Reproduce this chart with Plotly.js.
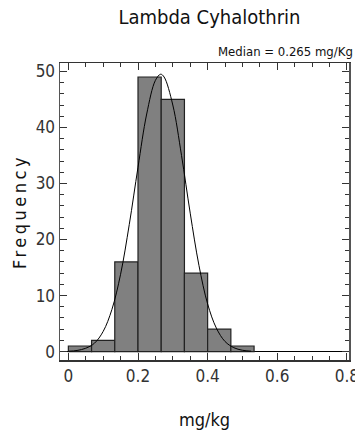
<!DOCTYPE html>
<html>
<head>
<meta charset="utf-8">
<script src="https://cdn.plot.ly/plotly-3.0.1.min.js"></script>
<style>html,body{margin:0;padding:0;background:#fff;}#chart{width:355px;height:430px;}</style>
</head>
<body>
<div id="chart"></div>
<script>
// Histogram bins (mg/kg) and counts
var binStarts = [0, 0.0667, 0.1333, 0.2, 0.2667, 0.3333, 0.4, 0.4667];
var binWidth = 0.0667;
var counts = [1, 2, 16, 49, 45, 14, 4, 1];

// Fitted curve
var curveX = [0.0, 0.025, 0.05, 0.075, 0.1, 0.125, 0.15, 0.175, 0.2, 0.225, 0.25, 0.265, 0.275, 0.3, 0.325, 0.35, 0.375, 0.4, 0.425, 0.45, 0.475, 0.5, 0.525];
var curveY = [0.06, 0.2, 0.6, 1.5, 3.6, 7.5, 13.8, 22.7, 32.9, 42.4, 48.4, 49.5, 49.0, 44.0, 35.0, 24.7, 15.4, 8.5, 4.2, 1.8, 0.7, 0.24, 0.07];

var titleText = "Lambda Cyhalothrin";
var medianText = "Median = 0.265 mg/Kg";
var xTitle = "mg/kg";
var yTitle = "Frequency";
var xTickVals = [0, 0.2, 0.4, 0.6, 0.8];
var xTickText = ["0", "0.2", "0.4", "0.6", "0.8"];
var yTickVals = [0, 10, 20, 30, 40, 50];

var centers = binStarts.map(function(s){ return s + binWidth/2; });

var font = "'DejaVu Sans Condensed', 'Liberation Sans', Arial, sans-serif";

var traces = [
  {
    type: 'bar',
    x: centers,
    y: counts,
    width: binStarts.map(function(){ return binWidth; }),
    marker: {color: 'rgb(128,128,128)', line: {color: '#222', width: 1.2}},
    hoverinfo: 'skip'
  },
  {
    type: 'scatter',
    mode: 'lines',
    x: curveX,
    y: curveY,
    line: {color: '#000', width: 1, shape: 'spline'},
    hoverinfo: 'skip'
  }
];

var layout = {
  width: 355,
  height: 430,
  margin: {l: 60, r: 6, t: 63, b: 70},
  paper_bgcolor: '#fff',
  plot_bgcolor: '#fff',
  showlegend: false,
  bargap: 0,
  title: {text: titleText, x: 0.59, xanchor: 'center', y: 0.96, yanchor: 'middle',
          font: {family: font, size: 20, color: '#111'}},
  xaxis: {
    range: [-0.024, 0.806],
    tickvals: xTickVals, ticktext: xTickText,
    ticks: 'inside', ticklen: 7, tickcolor: '#333', tickwidth: 1,
    minor: {dtick: 0.05, ticks: 'inside', ticklen: 4, tickcolor: '#333', showgrid: false},
    showline: true, linecolor: '#333', linewidth: 1.5, mirror: 'allticks',
    showgrid: false, zeroline: false, ticklabeloverflow: 'allow',
    tickfont: {family: font, size: 17, color: '#333'},
    title: {text: xTitle, font: {family: font, size: 18, color: '#111'}, standoff: 32}
  },
  yaxis: {
    range: [-1.5, 51.5],
    tickvals: yTickVals,
    ticks: 'inside', ticklen: 7, tickcolor: '#333', tickwidth: 1,
    minor: {dtick: 2, ticks: 'inside', ticklen: 4, tickcolor: '#333', showgrid: false},
    showline: true, linecolor: '#555', linewidth: 1.5, mirror: 'allticks',
    showgrid: false, zeroline: true, zerolinecolor: '#000', zerolinewidth: 1,
    tickfont: {family: font, size: 17, color: '#333'},
    title: {text: yTitle, font: {family: font, size: 18, color: '#111'}, standoff: 4}
  },
  annotations: [
    {text: medianText, xref: 'paper', yref: 'paper', x: 1.02, y: 1.0, xanchor: 'right', yanchor: 'bottom',
     yshift: 2, showarrow: false, font: {family: font, size: 13, color: '#111'}}
  ]
};

Plotly.newPlot('chart', traces, layout, {displayModeBar: false, staticPlot: true}).then(function(gd){
  var yt = gd.querySelector('.ytitle');
  if (yt) { yt.style.letterSpacing = '3.5px'; }
});
</script>
</body>
</html>
